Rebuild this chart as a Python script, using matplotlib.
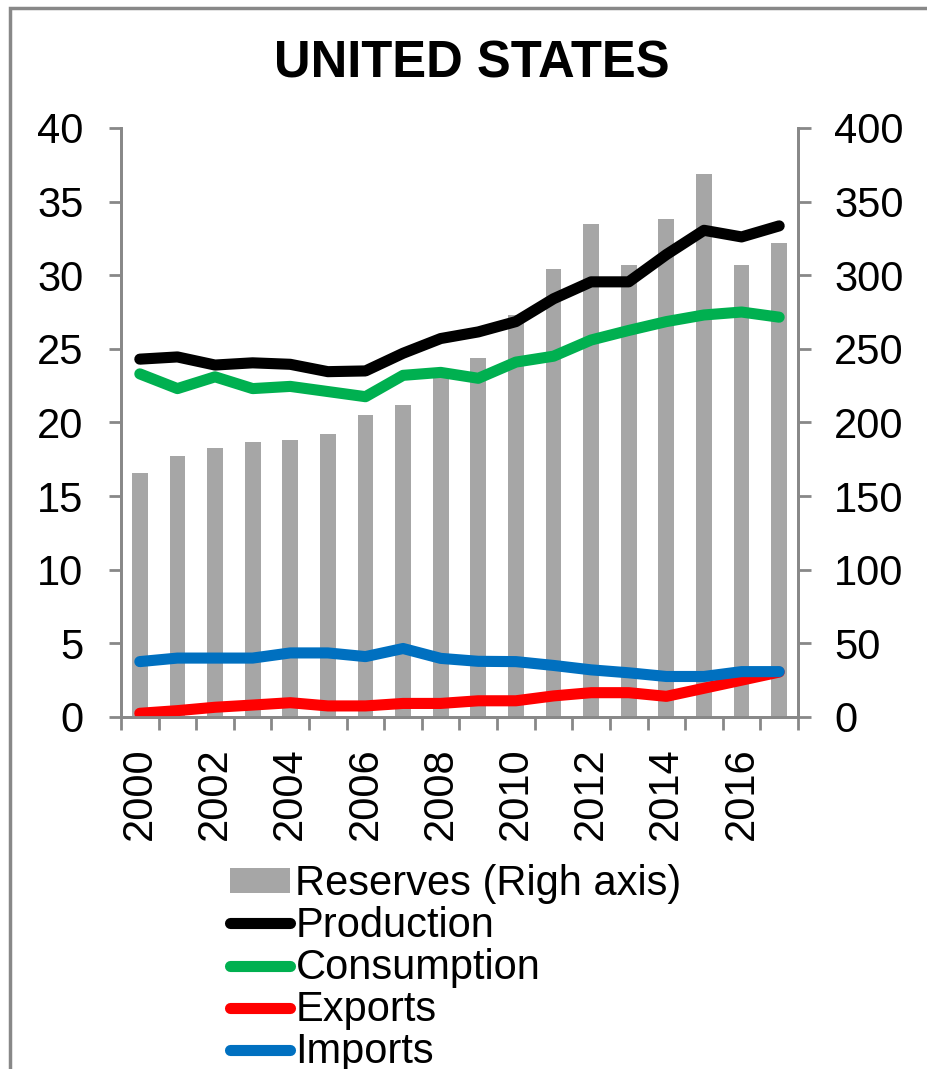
import matplotlib.pyplot as plt
from matplotlib.patches import Rectangle
import numpy as np

plt.rcParams['font.family'] = ['Liberation Sans', 'DejaVu Sans']

# Data
years = list(range(2000, 2018))
reserves = [166, 177, 183, 187, 188, 192, 205, 212, 236, 244,
            273, 304, 335, 307, 338, 369, 307, 322]
production = [24.3, 24.45, 23.9, 24.05, 23.95, 23.45, 23.5, 24.7, 25.7, 26.15,
              26.85, 28.4, 29.55, 29.55, 31.4, 33.05, 32.6, 33.35]
consumption = [23.3, 22.3, 23.1, 22.3, 22.45, 22.1, 21.75, 23.2, 23.4, 23.0,
               24.1, 24.5, 25.6, 26.25, 26.85, 27.3, 27.5, 27.15]
exports = [0.25, 0.43, 0.66, 0.81, 0.97, 0.75, 0.75, 0.92, 0.92, 1.1,
           1.1, 1.43, 1.65, 1.65, 1.4, 1.95, 2.5, 3.05]
imports = [3.76, 4.0, 4.0, 4.0, 4.35, 4.35, 4.1, 4.65, 3.98, 3.78,
           3.76, 3.5, 3.2, 3.0, 2.75, 2.75, 3.08, 3.08]

x = np.arange(len(years))
grey = '#888888'

fig = plt.figure(figsize=(9.28, 10.69), dpi=100)
ax = fig.add_axes([0.1304, 0.3293, 0.7295, 0.551])
ax2 = ax.twinx()

# bars on the right axis, kept behind the lines
bars = ax2.bar(x, reserves, width=0.42, color='#A6A6A6', label='Reserves (Righ axis)')
ax.set_zorder(ax2.get_zorder() + 1)
ax.patch.set_visible(False)

series = [(production, 'black', 'Production'),
          (consumption, '#00B050', 'Consumption'),
          (exports, '#FF0000', 'Exports'),
          (imports, '#0070C0', 'Imports')]
lines = []
for vals, col, lab in series:
    l, = ax.plot(x, vals, color=col, lw=8, solid_capstyle='round',
                 solid_joinstyle='round', label=lab)
    lines.append(l)

ax.set_xlim(-0.5, len(years) - 0.5)
ax.set_ylim(0, 40)
ax2.set_ylim(0, 400)
ax.set_yticks(np.arange(0, 41, 5))
ax2.set_yticks(np.arange(0, 401, 50))

# ticks at category boundaries, labels at every other category centre
ax.set_xticks(np.arange(-0.5, len(years), 1))
ax.set_xticklabels([])
ax.set_xticks(x[::2], minor=True)
ax.set_xticklabels([str(y) for y in years[::2]], minor=True, rotation=90)
ax.tick_params(axis='x', which='minor', length=0, pad=22, labelsize=30)
ax.tick_params(axis='x', which='major', length=9, width=2, color=grey, direction='out')
ax.tick_params(axis='y', length=9, width=2, color=grey, pad=18, labelsize=30)
ax2.tick_params(axis='y', length=9, width=2, color=grey, pad=17, labelsize=30)

for a in (ax, ax2):
    a.spines['top'].set_visible(False)
    for s in ('left', 'right', 'bottom'):
        a.spines[s].set_color(grey)
        a.spines[s].set_linewidth(2)

fig.text(472 / 928, 1 - 64 / 1069, 'UNITED STATES', ha='center', va='center',
         fontsize=36.5, fontweight='bold')

fig.legend([bars] + lines, [bars.get_label()] + [l.get_label() for l in lines],
           loc='upper left', bbox_to_anchor=(230 / 928, 1 - 864 / 1069),
           frameon=False, fontsize=30, borderpad=0, borderaxespad=0,
           labelspacing=0.05, handlelength=1.45, handleheight=0.55,
           handletextpad=0.12)

# outer frame around the chart area
fig.patches.append(Rectangle((10 / 928, -0.1), 1.2, 1.1 - 8 / 1069,
                             transform=fig.transFigure, fill=False,
                             edgecolor=grey, lw=2.5, clip_on=False))

fig.savefig('out.png', dpi=100)
